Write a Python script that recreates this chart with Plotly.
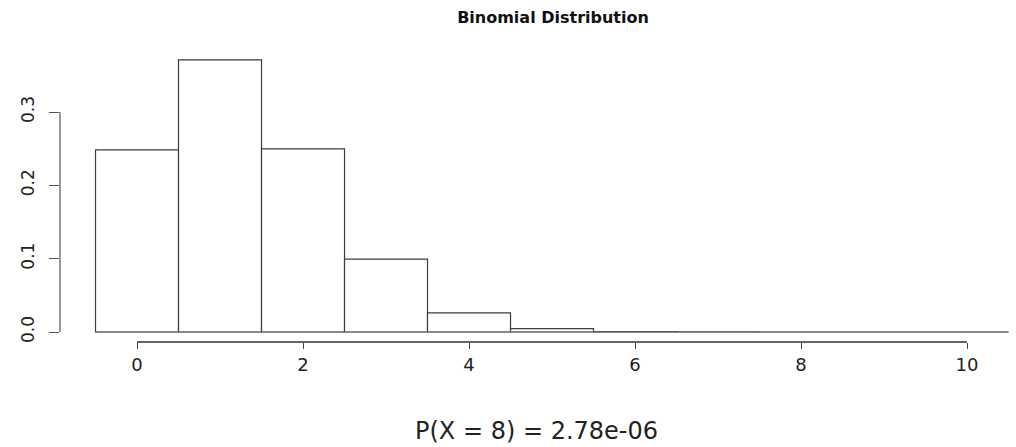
import plotly.graph_objects as go

# ---- data ----
k_values = [0, 1, 2, 3, 4, 5, 6, 7, 8, 9, 10]
probabilities = [0.2484, 0.3712, 0.2496, 0.0994, 0.0260, 0.00466, 0.00058,
                 0.0000496, 0.00000278, 0.000000092, 0.0000000014]
x_tick_vals = [0, 2, 4, 6, 8, 10]
x_tick_text = ["0", "2", "4", "6", "8", "10"]
y_tick_vals = [0.0, 0.1, 0.2, 0.3]
y_tick_text = ["0.0", "0.1", "0.2", "0.3"]
title_text = "Binomial Distribution"
sub_text = "P(X = 8) = 2.78e-06"

FONT = "DejaVu Sans"
LINE = "#3c3c3c"

fig = go.Figure()
fig.add_trace(go.Bar(
    x=k_values, y=probabilities, width=1,
    marker=dict(color="white", line=dict(color=LINE, width=1.2)),
    showlegend=False, hoverinfo="x+y",
))

shapes = [
    # detached y axis line (R style)
    dict(type="line", xref="paper", yref="y", x0=0, x1=0,
         y0=y_tick_vals[0], y1=y_tick_vals[-1], line=dict(color="#555", width=1.2)),
    # detached x axis line
    dict(type="line", xref="x", yref="paper", x0=x_tick_vals[0], x1=x_tick_vals[-1],
         y0=0, y1=0, line=dict(color="#333", width=1.4)),
    # bar baseline
    dict(type="line", xref="x", yref="y", x0=k_values[0] - 0.5, x1=k_values[-1] + 0.5,
         y0=0, y1=0, line=dict(color="#777", width=1)),
]

fig.update_layout(
    width=1016, height=447,
    margin=dict(l=60, r=4, t=40, b=105),
    paper_bgcolor="white", plot_bgcolor="white",
    font=dict(family=FONT, color="#222"),
    title=dict(text="<b>" + title_text + "</b>", x=553 / 1016, xref="container", xanchor="center",
               y=1 - 17.5 / 447, yref="container", yanchor="middle",
               font=dict(family=FONT, size=16, color="#111")),
    xaxis=dict(range=[-0.928, 10.542], tickvals=x_tick_vals, ticktext=x_tick_text,
               ticks="outside", ticklen=6, tickcolor="#444", tickwidth=1.2,
               showgrid=False, zeroline=False, showline=False,
               tickfont=dict(family=FONT, size=18, color="#222")),
    yaxis=dict(range=[-0.01364, 0.3982], tickvals=y_tick_vals, ticktext=y_tick_text,
               tickangle=-90, ticks="outside", ticklen=10, tickcolor="#555", tickwidth=1.2,
               showgrid=False, zeroline=False, showline=False, ticklabelstandoff=8,
               tickfont=dict(family=FONT, size=17, color="#222")),
    shapes=shapes,
    annotations=[dict(text=sub_text, xref="paper", yref="paper", x=0.5, y=(342 - 431) / 302,
                      xanchor="center", yanchor="middle", showarrow=False,
                      font=dict(family=FONT, size=24, color="#222"))],
)

fig.write_html("out.html")
